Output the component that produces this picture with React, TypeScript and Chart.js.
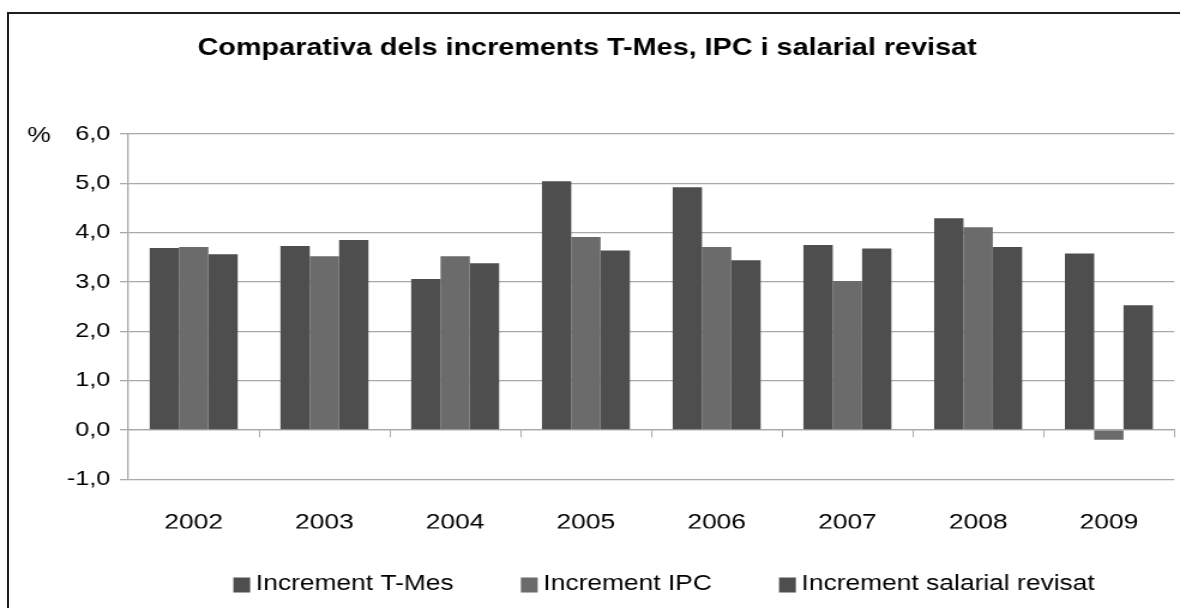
import React, { useEffect, useRef } from "react";
import { Chart, registerables } from "chart.js";

Chart.register(...registerables);

// ---- data ----
const CATEGORIES = ["2002", "2003", "2004", "2005", "2006", "2007", "2008", "2009"];
const SERIES_LABELS = ["Increment T-Mes", "Increment IPC", "Increment salarial revisat"];
const T_MES = [3.69, 3.73, 3.06, 5.04, 4.92, 3.75, 4.29, 3.58];
const IPC = [3.71, 3.52, 3.52, 3.91, 3.71, 3.02, 4.11, -0.2];
const SALARIAL = [3.56, 3.85, 3.38, 3.64, 3.44, 3.68, 3.71, 2.53];
const Y_MIN = -1;
const Y_MAX = 6;
const Y_STEP = 1;
const TITLE = "Comparativa dels increments T-Mes, IPC i salarial revisat";
const UNIT = "%";

// ---- styles ----
const FONT = "'Liberation Sans', Arial, sans-serif";
const DARK = "#4e4e4e";
const MID = "#6b6b6b";
const GRID = "#a8a8a8";
const INNER_W = 984;
const H = 608;
const SX = 1180 / INNER_W;

const extrasPlugin = {
  id: "extras",
  afterDraw(chart: any) {
    const ctx = chart.ctx;
    ctx.save();
    // unit label
    ctx.font = `22px ${FONT}`;
    ctx.fillStyle = "#000";
    ctx.textAlign = "center";
    ctx.textBaseline = "middle";
    ctx.fillText(UNIT, 32.5, 136);
    // legend
    ctx.font = `22px ${FONT}`;
    ctx.textAlign = "left";
    let x = 194.6;
    const y = 584;
    const bw = 14;
    const bh = 15;
    const gapText = 4.7;
    const gapItem = 56;
    chart.data.datasets.forEach((ds: any) => {
      ctx.fillStyle = ds.backgroundColor;
      ctx.fillRect(x, y + 1 - bh / 2, bw, bh);
      ctx.fillStyle = "#000";
      ctx.fillText(ds.label, x + bw + gapText, y);
      x += bw + gapText + ctx.measureText(ds.label).width + gapItem;
    });
    ctx.restore();
  },
};

export default function App() {
  const ref = useRef<HTMLCanvasElement | null>(null);

  useEffect(() => {
    if (!ref.current) return;
    const chart = new Chart(ref.current, {
      type: "bar",
      data: {
        labels: CATEGORIES,
        datasets: [
          { label: SERIES_LABELS[0], data: T_MES, backgroundColor: DARK },
          { label: SERIES_LABELS[1], data: IPC, backgroundColor: MID },
          { label: SERIES_LABELS[2], data: SALARIAL, backgroundColor: DARK },
        ],
      },
      options: {
        animation: false,
        responsive: false,
        devicePixelRatio: 1,
        datasets: {
          bar: { categoryPercentage: 0.673, barPercentage: 1, borderWidth: 0 },
        },
        layout: { padding: { left: 0, right: 4.8, top: 0, bottom: 79.5 } },
        plugins: {
          legend: { display: false },
          tooltip: { enabled: false },
          title: {
            display: true,
            text: TITLE,
            color: "#000",
            font: { family: FONT, size: 24, weight: "bold" },
            padding: { top: 34, bottom: 71.2 },
          },
        },
        scales: {
          x: {
            type: "category",
            position: { y: 0 } as any,
            offset: true,
            grid: {
              offset: true,
              drawOnChartArea: false,
              drawTicks: true,
              tickLength: 7,
              color: GRID,
              lineWidth: 1,
            },
            border: { display: true, color: GRID, width: 1.3 },
            ticks: { display: false },
          },
          xb: {
            type: "category",
            position: "bottom",
            offset: true,
            grid: { display: false },
            border: { display: false },
            ticks: {
              color: "#000",
              font: { family: FONT, size: 22 },
              padding: 22.8,
              maxRotation: 0,
              autoSkip: false,
            },
            afterFit: (s: any) => {
              s.height = 49.2;
            },
          },
          y: {
            min: Y_MIN,
            max: Y_MAX,
            grid: { color: GRID, lineWidth: 1.3, tickLength: 7, drawTicks: true },
            border: { display: true, color: GRID, width: 1.3 },
            ticks: {
              stepSize: Y_STEP,
              color: "#000",
              font: { family: FONT, size: 21 },
              padding: 8,
              callback: (v: any) => Number(v).toFixed(1).replace(".", ","),
            },
            afterFit: (s: any) => {
              s.width = 107;
            },
          },
        },
      },
      plugins: [extrasPlugin],
    });
    return () => chart.destroy();
  }, []);

  return (
    <div
      style={{
        position: "fixed",
        left: 0,
        top: 0,
        width: 1180,
        height: H,
        overflow: "hidden",
        background: "#fff",
      }}
    >
      <div
        style={{
          position: "absolute",
          left: 0,
          top: 0,
          width: INNER_W,
          height: H,
          transform: `scaleX(${SX})`,
          transformOrigin: "0 0",
        }}
      >
        <canvas ref={ref} width={INNER_W} height={H} style={{ display: "block" }} />
      </div>
      <div
        style={{
          position: "absolute",
          left: 7,
          top: 12,
          width: 1300,
          height: 700,
          border: "2px solid #1e1e1e",
          pointerEvents: "none",
        }}
      />
    </div>
  );
}
